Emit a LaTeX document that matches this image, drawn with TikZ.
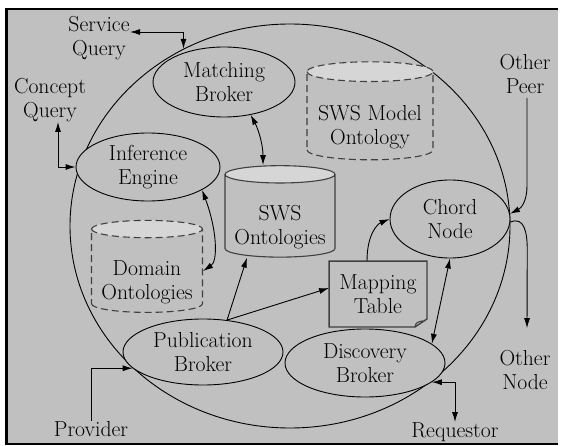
\documentclass[tikz,border=0pt]{standalone}
\usepackage{tikz}
\usetikzlibrary{shapes.geometric, arrows.meta, calc}
\definecolor{panel}{RGB}{192, 192, 192}
\definecolor{lid}{RGB}{214, 214, 214}
\definecolor{rim}{RGB}{64, 64, 64}
\newcommand{\lidgap}{\rule{0pt}{37pt}}

\begin{document}
\begin{tikzpicture}[x=1pt, y=-1pt, line width=0.9pt,
    every node/.style={font=\fontsize{21.7}{23.5}\selectfont, align=center, inner sep=0pt},
    broker/.style={ellipse, draw, fill=panel},
    store/.style={cylinder, shape border rotate=90, aspect=0.19, draw=rim, line width=1.1pt,
      cylinder uses custom fill, cylinder body fill=panel, cylinder end fill=lid},
    loose/.style={store, dashed, dash pattern=on 7pt off 4pt},
    link/.style={-{Latex[length=10pt, width=6pt]}},
    both/.style={{Latex[length=10pt, width=6pt]}-{Latex[length=10pt, width=6pt]}}]

  \useasboundingbox (0, 0) rectangle (561, 446);
  \fill[panel] (6, 9) rectangle (558, 444);
  \draw[line width=2.5pt] (558, 9) -| (6.5, 444) -- (558, 444);

  % peer boundary
  \node[ellipse, draw, minimum width=440, minimum height=404] (peer) at (290, 226) {};

  \node[broker, minimum width=142, minimum height=70] (match) at (224, 82) {Matching\\Broker};
  \node[broker, minimum width=144, minimum height=68] (infer) at (148, 167) {Inference\\Engine};
  \node[broker, minimum width=160, minimum height=66] (pub) at (203, 352) {Publication\\Broker};
  \node[broker, minimum width=160, minimum height=68] (disc) at (365, 363) {Discovery\\Broker};
  \node[broker, minimum width=120, minimum height=78] (chord) at (450, 219) {Chord\\Node};

  % \lidgap keeps the text below the lid
  \node[store, minimum width=110, minimum height=88] (sws) at (280, 216) {\lidgap SWS\\Ontologies};
  \node[loose, minimum width=126, minimum height=98] (model) at (370, 116) {\lidgap SWS Model\\Ontology};
  \node[loose, minimum width=111, minimum height=92] (domain) at (147, 271) {\lidgap Domain\\Ontologies};

  \node[minimum width=97, minimum height=65] (maptab) at (378, 294) {Mapping\\Table};
  \draw[rim, line width=1.4pt] (maptab.north west) -- (maptab.north east)
    -- ($(maptab.south east)+(0, -8)$) -- ($(maptab.south east)+(-12, 0)$)
    -- (maptab.south west) -- cycle;
  \draw[rim, line width=1.1pt] ($(maptab.south east)+(-12, 0)$)
    .. controls +(1, -5) and +(-5, 1) .. ($(maptab.south east)+(-4, -6)$);

  % outside labels
  \node (servq) at (99, 38) {Service\\Query};
  \node (concq) at (50, 100) {Concept\\Query};
  \node (opeer) at (525, 74) {Other\\Peer};
  \node (onode) at (525, 370) {Other\\Node};
  \node (reqr) at (455, 432) {Requestor};
  \node (prov) at (91, 429) {Provider};

  % connectors
  \draw[both] ([yshift=6pt]servq.east) -| (peer.121);
  \draw[both] ([xshift=8pt]concq.south) |- (infer.west);
  \draw[link] ([xshift=2pt, yshift=-4pt]opeer.south) -- ++(0, 88)
    .. controls +(0, 14) and +(12, -6) .. (chord.5);
  \draw[link] (chord.-3) .. controls +(14, -6) and +(0, -18) .. ++(17, 28)
    -- ([xshift=2pt, yshift=22pt]onode.north);
  \draw[both] (disc.-16) -| (reqr.north);
  \draw[link] (prov.north) |- (pub.193);

  \draw[both] (match.-51) .. controls +(8, 15) and +(0, -20) .. ([xshift=-17pt]sws.north);
  \draw[both] (infer.-23) .. controls +(15, 40) and +(15, -10) .. (domain.east);
  \draw[link] (pub.53) -- ([xshift=-33pt]sws.south);
  \draw[link] (pub.53) -- ([yshift=6pt]maptab.west);
  \draw[link] ([xshift=-11pt]maptab.north) .. controls +(0, -27) and +(-12, 5) .. (chord.west);
  \draw[both] (chord.south) -- (disc.16);

\end{tikzpicture}
\end{document}
